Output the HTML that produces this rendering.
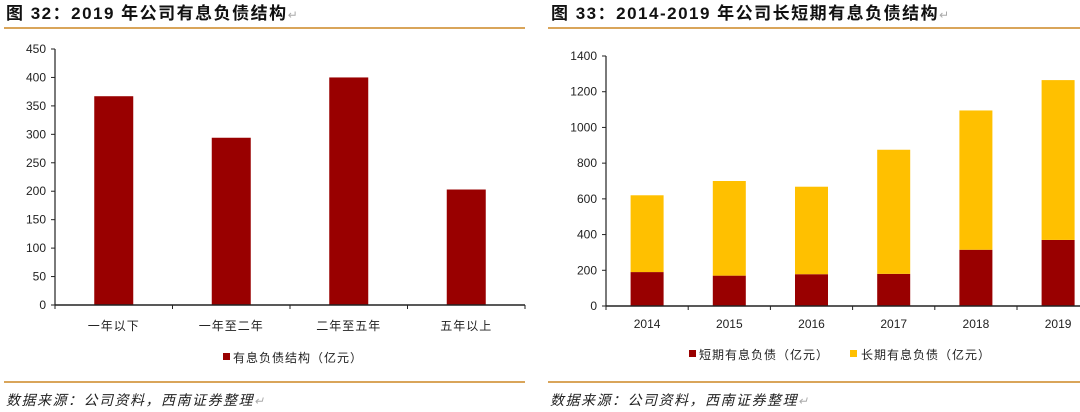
<!DOCTYPE html>
<html><head><meta charset="utf-8">
<style>
body{margin:0;width:1080px;height:412px;background:#fff;overflow:hidden;font-family:"Liberation Sans","Noto Sans CJK SC",sans-serif;}
svg{display:block}
</style></head>
<body>
<svg width="1080" height="412" viewBox="0 0 1080 412" xmlns="http://www.w3.org/2000/svg" font-family="Liberation Sans, Noto Sans CJK SC, sans-serif">
<text x="6" y="19" font-size="17" font-weight="bold" letter-spacing="1.5" fill="#111">图 32：2019 年公司有息负债结构<tspan fill="#aaa" font-weight="normal" font-size="12">↵</tspan></text>
<line x1="4" y1="28" x2="525" y2="28" stroke="#d9a55a" stroke-width="2"/>
<text x="551" y="19" font-size="17" font-weight="bold" letter-spacing="1.5" fill="#111">图 33：2014-2019 年公司长短期有息负债结构<tspan fill="#aaa" font-weight="normal" font-size="12">↵</tspan></text>
<line x1="548" y1="28" x2="1080" y2="28" stroke="#d9a55a" stroke-width="2"/>
<line x1="4" y1="382" x2="525" y2="382" stroke="#d9a55a" stroke-width="2"/>
<line x1="548" y1="382" x2="1080" y2="382" stroke="#d9a55a" stroke-width="2"/>
<text x="6" y="405" font-size="14" font-style="italic" letter-spacing="1.5" fill="#222">数据来源：公司资料，西南证券整理<tspan fill="#aaa" font-size="12">↵</tspan></text>
<text x="550" y="405" font-size="14" font-style="italic" letter-spacing="1.5" fill="#222">数据来源：公司资料，西南证券整理<tspan fill="#aaa" font-size="12">↵</tspan></text>
<g id="left"></g>
<g id="right"></g>
</svg>
<script>
const leftCats=["一年以下","一年至二年","二年至五年","五年以上"];
const leftVals=[367,294,400,203];
const leftTicks=[0,50,100,150,200,250,300,350,400,450];
const rightCats=["2014","2015","2016","2017","2018","2019"];
const shortVals=[190,170,178,180,315,370];
const longVals=[430,530,490,695,780,895];
const rightTicks=[0,200,400,600,800,1000,1200,1400];
const NS="http://www.w3.org/2000/svg";
function mk(p,tag,a,txt){const e=document.createElementNS(NS,tag);for(const k in a)e.setAttribute(k,a[k]);if(txt!==undefined)e.textContent=txt;p.appendChild(e);return e;}

(function(){
const g=document.getElementById('left');
const x0=55,x1=525,y0=305,yTop=49,max=450;
const y=v=>y0-(v/max)*(y0-yTop);
const bw=(x1-x0)/leftCats.length;
leftTicks.forEach(t=>{
 const tl=mk(g,'line',{x1:x0-4,x2:x0,y1:y(t),y2:y(t),stroke:'#222'});
 
 
 const tx=mk(g,'text',{x:x0-9,y:y(t)+4,'font-size':12,'text-anchor':'end',fill:'#222'},t);
 
 
});
leftCats.forEach((c,i)=>{
 const cx=x0+bw*(i+0.5);
 const r=mk(g,'rect',{x:cx-19.5,y:y(leftVals[i]),width:39,height:y0-y(leftVals[i]),fill:'#990000'});
 
 
 const tx=mk(g,'text',{x:cx,y:330,'font-size':12,'letter-spacing':1,'text-anchor':'middle',fill:'#222'},c);
 
 
});
for(let i=0;i<=leftCats.length;i++){
 const tk=mk(g,'line',{x1:x0+bw*i,x2:x0+bw*i,y1:y0,y2:y0+4,stroke:'#222'});
 
 
}
const ax=mk(g,'line',{x1:x0,x2:x0,y1:yTop,y2:y0,stroke:'#222','stroke-width':1.2});


const axx=mk(g,'line',{x1:x0,x2:x1,y1:y0,y2:y0,stroke:'#222','stroke-width':1.5});


const ls=mk(g,'rect',{x:223,y:353,width:7,height:7,fill:'#990000'});


const lt=mk(g,'text',{x:233,y:362,'font-size':12,'letter-spacing':1,fill:'#222'},'有息负债结构（亿元）');


})();

(function(){
const g=document.getElementById('right');
const x0=606,y0=306,yTop=56,max=1400,bw=82.2;
const y=v=>y0-(v/max)*(y0-yTop);
rightTicks.forEach(t=>{
 const tl=mk(g,'line',{x1:x0-4,x2:x0,y1:y(t),y2:y(t),stroke:'#222'});
 
 
 const tx=mk(g,'text',{x:x0-9,y:y(t)+4,'font-size':12,'text-anchor':'end',fill:'#222'},t);
 
 
});
rightCats.forEach((c,i)=>{
 const cx=x0+bw*(i+0.5);
 const s=shortVals[i],l=longVals[i];
 const r1=mk(g,'rect',{x:cx-16.5,y:y(s),width:33,height:y0-y(s),fill:'#990000'});
 
 
 const r2=mk(g,'rect',{x:cx-16.5,y:y(s+l),width:33,height:y(s)-y(s+l),fill:'#ffc000'});
 
 
 const tx=mk(g,'text',{x:cx,y:328,'font-size':12,'text-anchor':'middle',fill:'#222'},c);
 
 
});
for(let i=0;i<=rightCats.length;i++){
 const tk=mk(g,'line',{x1:x0+bw*i,x2:x0+bw*i,y1:y0,y2:y0+4,stroke:'#222'});
 
 
}
const ax=mk(g,'line',{x1:x0,x2:x0,y1:yTop,y2:y0,stroke:'#222','stroke-width':1.2});


const axx=mk(g,'line',{x1:x0,x2:1080,y1:y0,y2:y0,stroke:'#222','stroke-width':1.5});


const s1=mk(g,'rect',{x:689,y:350,width:7,height:7,fill:'#990000'});


const t1=mk(g,'text',{x:699,y:359,'font-size':12,'letter-spacing':1,fill:'#222'},'短期有息负债（亿元）');


const s2=mk(g,'rect',{x:850,y:350,width:7,height:7,fill:'#ffc000'});


const t2=mk(g,'text',{x:861,y:359,'font-size':12,'letter-spacing':1,fill:'#222'},'长期有息负债（亿元）');


})();
</script>
</body></html>
